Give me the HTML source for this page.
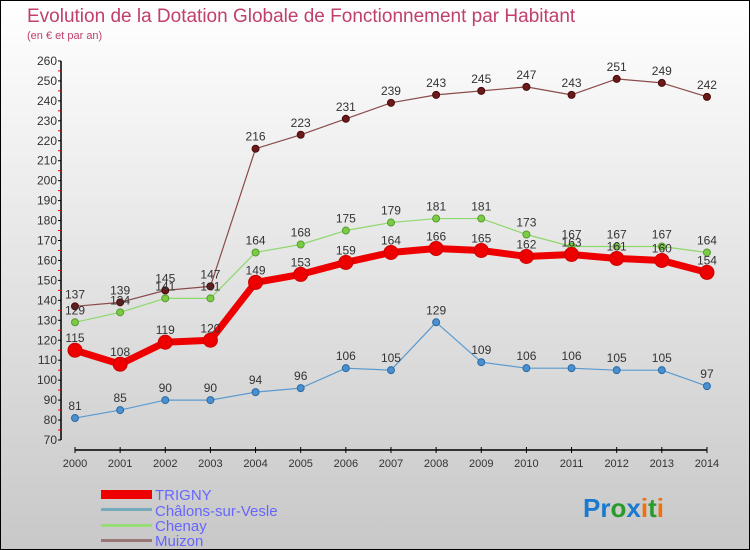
<!DOCTYPE html>
<html><head><meta charset="utf-8"><style>
body{margin:0}
#wrap{width:748px;height:548px;border:1px solid #000;background:linear-gradient(#fff,#c8c8c8);position:relative;overflow:hidden;font-family:"Liberation Sans",sans-serif}
</style></head><body>
<div id="wrap">
<svg id="svg" width="748" height="548" xmlns="http://www.w3.org/2000/svg">
<text x="26" y="21" font-size="19" fill="#c0406a">Evolution de la Dotation Globale de Fonctionnement par Habitant</text>
<text x="26" y="38" font-size="11" fill="#c0406a">(en € et par an)</text>
<g id="axes"></g><g id="series"></g>
<g>
<rect x="100" y="489" width="51" height="9" fill="#e00"/>
<text x="154" y="499" font-size="15" fill="#66f">TRIGNY</text>
<rect x="100" y="507" width="51" height="3" fill="#7ab"/>
<text x="154" y="515" font-size="15" fill="#66f">Châlons-sur-Vesle</text>
<rect x="100" y="523" width="51" height="3" fill="#9d7"/>
<text x="154" y="530" font-size="15" fill="#66f">Chenay</text>
<rect x="100" y="538" width="51" height="3" fill="#977"/>
<text x="154" y="545" font-size="15" fill="#66f">Muizon</text>
</g>
<text x="582" y="516" font-size="26" font-weight="bold"><tspan fill="#1a7ad0">Pr</tspan><tspan fill="#2a9a2a">o</tspan><tspan fill="#1a7ad0">x</tspan><tspan fill="#f07010">i</tspan><tspan fill="#2a9a2a">t</tspan><tspan fill="#f07010">i</tspan></text>
</svg></div>
<script>
const years=[2000,2001,2002,2003,2004,2005,2006,2007,2008,2009,2010,2011,2012,2013,2014];
const trigny=[115,108,119,120,149,153,159,164,166,165,162,163,161,160,154];
const chalons=[81,85,90,90,94,96,106,105,129,109,106,106,105,105,97];
const chenay=[129,134,141,141,164,168,175,179,181,181,173,167,167,167,164];
const muizon=[137,139,145,147,216,223,231,239,243,245,247,243,251,249,242];
const yTicks=[70,80,90,100,110,120,130,140,150,160,170,180,190,200,210,220,230,240,250,260];
const NS="http://www.w3.org/2000/svg";
const X=i=>74+i*45.14, Y=v=>439-(v-70)*1.995;
function mk(t,a,p){const e=document.createElementNS(NS,t);for(const k in a)e.setAttribute(k,a[k]);p.appendChild(e);return e;}
const ax=document.getElementById('axes'), sg=document.getElementById('series');
let yl=mk('line',{x1:60,y1:Y(260),x2:60,y2:Y(70),stroke:'#000','stroke-width':1.5},ax);


let xl=mk('line',{x1:74,y1:449,x2:X(14),y2:449,stroke:'#000','stroke-width':1.5},ax);


yTicks.forEach(v=>{
 mk('line',{x1:57,y1:Y(v),x2:60,y2:Y(v),stroke:'#000'},ax);
 if(v<260)mk('line',{x1:57,y1:Y(v+5),x2:60,y2:Y(v+5),stroke:'#e00'},ax);
 const t=mk('text',{x:56,y:Y(v)+4,'font-size':12,fill:'#333','text-anchor':'end'},ax);t.textContent=v;
 
 
});
years.forEach((y,i)=>{
 mk('line',{x1:X(i),y1:446,x2:X(i),y2:452,stroke:'#000'},ax);
 const t=mk('text',{x:X(i),y:466,'font-size':11,fill:'#333','text-anchor':'middle'},ax);t.textContent=y;
 
 
});
function series(name,data,col,w,r,dot,stroke){
 const g=mk('g',{},sg);
 
 
 mk('polyline',{points:data.map((v,i)=>X(i)+','+Y(v)).join(' '),fill:'none',stroke:col,'stroke-width':w,'stroke-linejoin':'round'},g);
 data.forEach((v,i)=>{
  const c=mk('circle',{cx:X(i),cy:Y(v),r:r,fill:dot,stroke:stroke,'stroke-width':1},g);
  
  
  const t=mk('text',{x:X(i),y:Y(v)-8,'font-size':12,fill:'#333','text-anchor':'middle'},g);t.textContent=v;
  
  
 });
}
series('muizon',muizon,'#8a4b4b',1.2,3.5,'#6a1a1a','#4a0a0a');
series('chenay',chenay,'#8dd86a',1.2,3.5,'#7acc44','#5a9a30');
series('chalons',chalons,'#5a9ad0',1.2,3.5,'#4a90d0','#2a6aa0');
series('trigny',trigny,'#ee0000',7,7,'#ee0000','#cc0000');
</script>
</body></html>
